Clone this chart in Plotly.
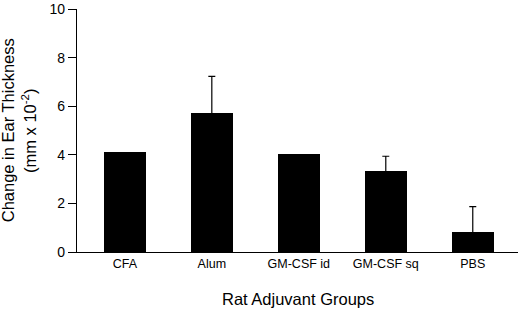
import plotly.graph_objects as go

categories = ["CFA", "Alum", "GM-CSF id", "GM-CSF sq", "PBS"]
values = [4.1, 5.73, 4.03, 3.33, 0.81]
errors = [None, 1.5, None, 0.61, 1.06]

err_x = [c for c, e in zip(categories, errors) if e is not None]
err_y = [v for v, e in zip(values, errors) if e is not None]
err_up = [e for e in errors if e is not None]

fig = go.Figure()
fig.add_trace(go.Bar(
    x=categories, y=values, width=0.48,
    marker=dict(color="black", line=dict(width=0)),
))
fig.add_trace(go.Scatter(
    x=err_x, y=err_y, mode="markers",
    marker=dict(size=1, color="black", opacity=0),
    error_y=dict(type="data", array=err_up, arrayminus=[0.2] * len(err_up),
                 symmetric=False, color="black", thickness=1.2, width=3.5),
    hoverinfo="skip",
))

font = "Liberation Sans, Arial, Helvetica, sans-serif"
fig.update_layout(
    width=520, height=311,
    margin=dict(l=77, r=2, t=9, b=59),
    paper_bgcolor="white", plot_bgcolor="white",
    showlegend=False,
    font=dict(family=font, color="black", size=12),
    bargap=0,
)
fig.update_xaxes(
    type="category", range=[-0.55, 4.52],
    showline=True, linecolor="black", linewidth=1.2,
    ticks="", showgrid=False, zeroline=False,
    tickfont=dict(size=12.5, family=font),
)
fig.update_yaxes(
    range=[0, 10], tickvals=[0, 2, 4, 6, 8, 10],
    showline=True, linecolor="black", linewidth=1.2,
    ticks="outside", ticklen=8, tickwidth=1.2, tickcolor="black",
    showgrid=False, zeroline=False, automargin=False,
    tickfont=dict(size=14, family=font),
)
fig.add_annotation(
    text="Change in Ear Thickness", textangle=-90, showarrow=False,
    xref="paper", yref="paper", x=-0.157, y=0.5, xanchor="center", yanchor="middle",
    font=dict(size=16.5, family=font, color="black"),
)
fig.add_annotation(
    text="(mm x 10<sup>-2</sup>)", textangle=-90, showarrow=False,
    xref="paper", yref="paper", x=-0.11, y=0.5, xanchor="center", yanchor="middle",
    font=dict(size=16.5, family=font, color="black"),
)
fig.add_annotation(
    text="Rat Adjuvant Groups", showarrow=False,
    xref="paper", yref="paper", x=0.5, y=-0.192, xanchor="center", yanchor="middle",
    font=dict(size=16.5, family=font, color="black"),
)
fig.write_html("out.html", config={"displayModeBar": False},
               post_script="document.body.style.margin='0';")
